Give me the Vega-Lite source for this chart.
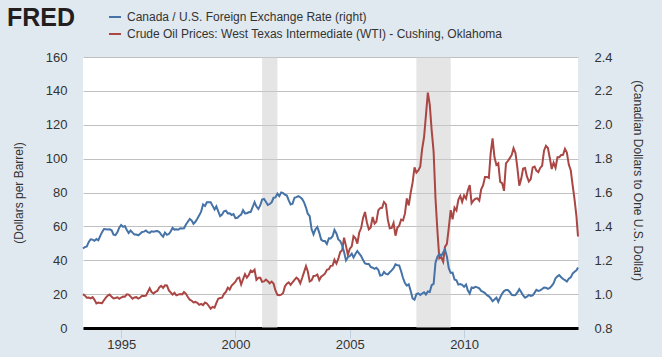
{
  "$schema": "https://vega.github.io/schema/vega-lite/v6.json",
  "width": 495,
  "height": 271,
  "autosize": "none",
  "padding": {"left": 83, "top": 57, "right": 84, "bottom": 29},
  "background": "#e1e9f0",
  "view": {"fill": "#ffffff", "stroke": null},
  "config": {"font": "Liberation Sans"},
  "title": {"text": "FRED", "anchor": "start", "frame": "group", "orient": "top", "dx": -76, "offset": -46, "fontSize": 25, "fontWeight": "bold", "font": "Liberation Sans", "color": "#231f20", "baseline": "bottom"},
  "datasets": {
    "rec": [
      {"start": "2001-03-01", "end": "2001-11-01"},
      {"start": "2007-12-01", "end": "2009-06-01"}
    ],
    "series": [
      {"date":"1993-05-01","oil":20.0,"cad":1.269},{"date":"1993-06-01","oil":19.1,"cad":1.278},{"date":"1993-07-01","oil":17.9,"cad":1.282},{"date":"1993-08-01","oil":18.0,"cad":1.308},{"date":"1993-09-01","oil":17.5,"cad":1.324},{"date":"1993-10-01","oil":18.2,"cad":1.322},{"date":"1993-11-01","oil":16.6,"cad":1.315},{"date":"1993-12-01","oil":14.5,"cad":1.325},
      {"date":"1994-01-01","oil":15.0,"cad":1.318},{"date":"1994-02-01","oil":14.8,"cad":1.344},{"date":"1994-03-01","oil":14.7,"cad":1.366},{"date":"1994-04-01","oil":16.4,"cad":1.384},{"date":"1994-05-01","oil":17.9,"cad":1.383},{"date":"1994-06-01","oil":19.1,"cad":1.382},{"date":"1994-07-01","oil":19.7,"cad":1.383},{"date":"1994-08-01","oil":18.4,"cad":1.377},{"date":"1994-09-01","oil":17.5,"cad":1.351},{"date":"1994-10-01","oil":17.7,"cad":1.348},{"date":"1994-11-01","oil":18.1,"cad":1.365},{"date":"1994-12-01","oil":17.2,"cad":1.392},
      {"date":"1995-01-01","oil":18.0,"cad":1.408},{"date":"1995-02-01","oil":18.6,"cad":1.397},{"date":"1995-03-01","oil":18.5,"cad":1.402},{"date":"1995-04-01","oil":19.9,"cad":1.379},{"date":"1995-05-01","oil":19.7,"cad":1.361},{"date":"1995-06-01","oil":18.5,"cad":1.375},{"date":"1995-07-01","oil":17.3,"cad":1.363},{"date":"1995-08-01","oil":18.0,"cad":1.352},{"date":"1995-09-01","oil":18.2,"cad":1.352},{"date":"1995-10-01","oil":17.4,"cad":1.347},{"date":"1995-11-01","oil":18.0,"cad":1.357},{"date":"1995-12-01","oil":19.0,"cad":1.367},
      {"date":"1996-01-01","oil":18.9,"cad":1.369},{"date":"1996-02-01","oil":19.1,"cad":1.376},{"date":"1996-03-01","oil":21.3,"cad":1.366},{"date":"1996-04-01","oil":23.5,"cad":1.362},{"date":"1996-05-01","oil":21.2,"cad":1.371},{"date":"1996-06-01","oil":20.4,"cad":1.369},{"date":"1996-07-01","oil":21.3,"cad":1.371},{"date":"1996-08-01","oil":21.9,"cad":1.372},{"date":"1996-09-01","oil":24.0,"cad":1.367},{"date":"1996-10-01","oil":24.9,"cad":1.351},{"date":"1996-11-01","oil":23.7,"cad":1.339},{"date":"1996-12-01","oil":25.2,"cad":1.363},
      {"date":"1997-01-01","oil":25.1,"cad":1.350},{"date":"1997-02-01","oil":22.2,"cad":1.355},{"date":"1997-03-01","oil":21.0,"cad":1.370},{"date":"1997-04-01","oil":19.7,"cad":1.391},{"date":"1997-05-01","oil":20.8,"cad":1.381},{"date":"1997-06-01","oil":19.3,"cad":1.383},{"date":"1997-07-01","oil":19.7,"cad":1.380},{"date":"1997-08-01","oil":20.0,"cad":1.389},{"date":"1997-09-01","oil":19.8,"cad":1.387},{"date":"1997-10-01","oil":21.3,"cad":1.389},{"date":"1997-11-01","oil":20.2,"cad":1.411},{"date":"1997-12-01","oil":18.3,"cad":1.427},
      {"date":"1998-01-01","oil":16.7,"cad":1.444},{"date":"1998-02-01","oil":16.1,"cad":1.434},{"date":"1998-03-01","oil":15.1,"cad":1.415},{"date":"1998-04-01","oil":15.4,"cad":1.427},{"date":"1998-05-01","oil":14.9,"cad":1.445},{"date":"1998-06-01","oil":13.7,"cad":1.465},{"date":"1998-07-01","oil":14.2,"cad":1.487},{"date":"1998-08-01","oil":13.5,"cad":1.529},{"date":"1998-09-01","oil":15.0,"cad":1.520},{"date":"1998-10-01","oil":14.5,"cad":1.542},{"date":"1998-11-01","oil":13.0,"cad":1.542},{"date":"1998-12-01","oil":11.4,"cad":1.542},
      {"date":"1999-01-01","oil":12.5,"cad":1.521},{"date":"1999-02-01","oil":12.0,"cad":1.500},{"date":"1999-03-01","oil":14.7,"cad":1.518},{"date":"1999-04-01","oil":17.3,"cad":1.488},{"date":"1999-05-01","oil":17.7,"cad":1.461},{"date":"1999-06-01","oil":17.9,"cad":1.470},{"date":"1999-07-01","oil":20.1,"cad":1.489},{"date":"1999-08-01","oil":21.3,"cad":1.493},{"date":"1999-09-01","oil":23.8,"cad":1.477},{"date":"1999-10-01","oil":22.7,"cad":1.478},{"date":"1999-11-01","oil":25.0,"cad":1.467},{"date":"1999-12-01","oil":26.1,"cad":1.472},
      {"date":"2000-01-01","oil":27.3,"cad":1.449},{"date":"2000-02-01","oil":29.4,"cad":1.451},{"date":"2000-03-01","oil":29.8,"cad":1.461},{"date":"2000-04-01","oil":25.7,"cad":1.469},{"date":"2000-05-01","oil":28.8,"cad":1.496},{"date":"2000-06-01","oil":31.8,"cad":1.477},{"date":"2000-07-01","oil":29.7,"cad":1.478},{"date":"2000-08-01","oil":31.3,"cad":1.483},{"date":"2000-09-01","oil":33.9,"cad":1.486},{"date":"2000-10-01","oil":33.1,"cad":1.513},{"date":"2000-11-01","oil":34.4,"cad":1.543},{"date":"2000-12-01","oil":28.4,"cad":1.517},
      {"date":"2001-01-01","oil":29.6,"cad":1.503},{"date":"2001-02-01","oil":29.6,"cad":1.525},{"date":"2001-03-01","oil":27.3,"cad":1.558},{"date":"2001-04-01","oil":27.5,"cad":1.562},{"date":"2001-05-01","oil":28.6,"cad":1.545},{"date":"2001-06-01","oil":27.6,"cad":1.526},{"date":"2001-07-01","oil":26.4,"cad":1.532},{"date":"2001-08-01","oil":27.4,"cad":1.541},{"date":"2001-09-01","oil":26.2,"cad":1.569},{"date":"2001-10-01","oil":22.2,"cad":1.571},{"date":"2001-11-01","oil":19.6,"cad":1.593},{"date":"2001-12-01","oil":19.4,"cad":1.578},
      {"date":"2002-01-01","oil":19.7,"cad":1.600},{"date":"2002-02-01","oil":20.7,"cad":1.596},{"date":"2002-03-01","oil":24.5,"cad":1.588},{"date":"2002-04-01","oil":26.2,"cad":1.582},{"date":"2002-05-01","oil":27.0,"cad":1.553},{"date":"2002-06-01","oil":25.5,"cad":1.529},{"date":"2002-07-01","oil":27.0,"cad":1.533},{"date":"2002-08-01","oil":28.4,"cad":1.569},{"date":"2002-09-01","oil":29.7,"cad":1.573},{"date":"2002-10-01","oil":28.8,"cad":1.579},{"date":"2002-11-01","oil":26.4,"cad":1.572},{"date":"2002-12-01","oil":29.5,"cad":1.562},
      {"date":"2003-01-01","oil":33.0,"cad":1.542},{"date":"2003-02-01","oil":36.5,"cad":1.511},{"date":"2003-03-01","oil":33.5,"cad":1.475},{"date":"2003-04-01","oil":27.5,"cad":1.461},{"date":"2003-05-01","oil":28.1,"cad":1.384},{"date":"2003-06-01","oil":30.7,"cad":1.353},{"date":"2003-07-01","oil":30.8,"cad":1.382},{"date":"2003-08-01","oil":31.6,"cad":1.396},{"date":"2003-09-01","oil":28.3,"cad":1.363},{"date":"2003-10-01","oil":30.3,"cad":1.322},{"date":"2003-11-01","oil":31.1,"cad":1.313},{"date":"2003-12-01","oil":32.1,"cad":1.313},
      {"date":"2004-01-01","oil":34.3,"cad":1.296},{"date":"2004-02-01","oil":34.7,"cad":1.330},{"date":"2004-03-01","oil":36.7,"cad":1.329},{"date":"2004-04-01","oil":36.8,"cad":1.342},{"date":"2004-05-01","oil":40.3,"cad":1.379},{"date":"2004-06-01","oil":38.0,"cad":1.358},{"date":"2004-07-01","oil":40.8,"cad":1.323},{"date":"2004-08-01","oil":44.9,"cad":1.313},{"date":"2004-09-01","oil":45.9,"cad":1.288},{"date":"2004-10-01","oil":53.3,"cad":1.249},{"date":"2004-11-01","oil":48.5,"cad":1.199},{"date":"2004-12-01","oil":43.2,"cad":1.218},
      {"date":"2005-01-01","oil":46.8,"cad":1.225},{"date":"2005-02-01","oil":48.2,"cad":1.239},{"date":"2005-03-01","oil":54.2,"cad":1.216},{"date":"2005-04-01","oil":53.0,"cad":1.237},{"date":"2005-05-01","oil":49.8,"cad":1.255},{"date":"2005-06-01","oil":56.4,"cad":1.239},{"date":"2005-07-01","oil":59.0,"cad":1.225},{"date":"2005-08-01","oil":65.0,"cad":1.201},{"date":"2005-09-01","oil":68.5,"cad":1.181},{"date":"2005-10-01","oil":62.3,"cad":1.178},{"date":"2005-11-01","oil":58.3,"cad":1.178},{"date":"2005-12-01","oil":59.4,"cad":1.160},
      {"date":"2006-01-01","oil":65.5,"cad":1.156},{"date":"2006-02-01","oil":61.6,"cad":1.149},{"date":"2006-03-01","oil":62.7,"cad":1.156},{"date":"2006-04-01","oil":69.4,"cad":1.144},{"date":"2006-05-01","oil":70.8,"cad":1.109},{"date":"2006-06-01","oil":71.0,"cad":1.112},{"date":"2006-07-01","oil":74.4,"cad":1.131},{"date":"2006-08-01","oil":73.0,"cad":1.119},{"date":"2006-09-01","oil":63.8,"cad":1.116},{"date":"2006-10-01","oil":58.9,"cad":1.129},{"date":"2006-11-01","oil":59.1,"cad":1.140},{"date":"2006-12-01","oil":62.0,"cad":1.153},
      {"date":"2007-01-01","oil":54.5,"cad":1.176},{"date":"2007-02-01","oil":59.3,"cad":1.171},{"date":"2007-03-01","oil":60.4,"cad":1.170},{"date":"2007-04-01","oil":64.0,"cad":1.135},{"date":"2007-05-01","oil":63.5,"cad":1.095},{"date":"2007-06-01","oil":67.5,"cad":1.065},{"date":"2007-07-01","oil":76.5,"cad":1.050},{"date":"2007-08-01","oil":72.4,"cad":1.058},{"date":"2007-09-01","oil":79.9,"cad":1.019},{"date":"2007-10-01","oil":85.8,"cad":0.975},{"date":"2007-11-01","oil":94.8,"cad":0.967},{"date":"2007-12-01","oil":91.7,"cad":1.000},
      {"date":"2008-01-01","oil":93.0,"cad":1.004},{"date":"2008-02-01","oil":95.4,"cad":0.995},{"date":"2008-03-01","oil":105.5,"cad":1.004},{"date":"2008-04-01","oil":112.6,"cad":1.011},{"date":"2008-05-01","oil":125.4,"cad":0.998},{"date":"2008-06-01","oil":139.0,"cad":1.016},{"date":"2008-07-01","oil":132.0,"cad":1.013},{"date":"2008-08-01","oil":116.7,"cad":1.053},{"date":"2008-09-01","oil":104.1,"cad":1.060},{"date":"2008-10-01","oil":76.6,"cad":1.186},{"date":"2008-11-01","oil":57.3,"cad":1.221},{"date":"2008-12-01","oil":41.1,"cad":1.237},
      {"date":"2009-01-01","oil":41.7,"cad":1.226},{"date":"2009-02-01","oil":39.1,"cad":1.246},{"date":"2009-03-01","oil":47.9,"cad":1.264},{"date":"2009-04-01","oil":49.7,"cad":1.222},{"date":"2009-05-01","oil":59.0,"cad":1.153},{"date":"2009-06-01","oil":69.6,"cad":1.125},{"date":"2009-07-01","oil":64.2,"cad":1.127},{"date":"2009-08-01","oil":71.1,"cad":1.086},{"date":"2009-09-01","oil":69.4,"cad":1.082},{"date":"2009-10-01","oil":75.7,"cad":1.056},{"date":"2009-11-01","oil":78.0,"cad":1.059},{"date":"2009-12-01","oil":74.5,"cad":1.055},
      {"date":"2010-01-01","oil":78.3,"cad":1.043},{"date":"2010-02-01","oil":76.4,"cad":1.057},{"date":"2010-03-01","oil":81.2,"cad":1.023},{"date":"2010-04-01","oil":84.3,"cad":1.004},{"date":"2010-05-01","oil":73.7,"cad":1.040},{"date":"2010-06-01","oil":75.3,"cad":1.037},{"date":"2010-07-01","oil":76.3,"cad":1.043},{"date":"2010-08-01","oil":76.6,"cad":1.040},{"date":"2010-09-01","oil":75.2,"cad":1.034},{"date":"2010-10-01","oil":81.9,"cad":1.019},{"date":"2010-11-01","oil":84.3,"cad":1.013},{"date":"2010-12-01","oil":89.2,"cad":1.006},
      {"date":"2011-01-01","oil":89.2,"cad":0.994},{"date":"2011-02-01","oil":88.6,"cad":0.987},{"date":"2011-03-01","oil":102.9,"cad":0.976},{"date":"2011-04-01","oil":112.0,"cad":0.958},{"date":"2011-05-01","oil":100.9,"cad":0.968},{"date":"2011-06-01","oil":96.3,"cad":0.979},{"date":"2011-07-01","oil":97.3,"cad":0.955},{"date":"2011-08-01","oil":86.3,"cad":0.981},{"date":"2011-09-01","oil":85.5,"cad":1.003},{"date":"2011-10-01","oil":81.0,"cad":1.018},{"date":"2011-11-01","oil":97.2,"cad":1.024},{"date":"2011-12-01","oil":98.6,"cad":1.024},
      {"date":"2012-01-01","oil":100.3,"cad":1.013},{"date":"2012-02-01","oil":102.2,"cad":0.996},{"date":"2012-03-01","oil":106.2,"cad":0.993},{"date":"2012-04-01","oil":103.3,"cad":0.994},{"date":"2012-05-01","oil":94.7,"cad":1.010},{"date":"2012-06-01","oil":84.0,"cad":1.029},{"date":"2012-07-01","oil":87.9,"cad":1.012},{"date":"2012-08-01","oil":94.1,"cad":0.992},{"date":"2012-09-01","oil":94.5,"cad":0.979},{"date":"2012-10-01","oil":89.5,"cad":0.985},{"date":"2012-11-01","oil":86.5,"cad":0.995},{"date":"2012-12-01","oil":87.9,"cad":0.989},
      {"date":"2013-01-01","oil":94.8,"cad":0.993},{"date":"2013-02-01","oil":95.3,"cad":1.009},{"date":"2013-03-01","oil":92.9,"cad":1.025},{"date":"2013-04-01","oil":92.0,"cad":1.019},{"date":"2013-05-01","oil":94.5,"cad":1.022},{"date":"2013-06-01","oil":95.8,"cad":1.030},{"date":"2013-07-01","oil":104.7,"cad":1.039},{"date":"2013-08-01","oil":107.5,"cad":1.038},{"date":"2013-09-01","oil":106.3,"cad":1.031},{"date":"2013-10-01","oil":100.5,"cad":1.036},{"date":"2013-11-01","oil":93.9,"cad":1.049},{"date":"2013-12-01","oil":97.6,"cad":1.064},
      {"date":"2014-01-01","oil":94.6,"cad":1.094},{"date":"2014-02-01","oil":100.8,"cad":1.105},{"date":"2014-03-01","oil":100.8,"cad":1.112},{"date":"2014-04-01","oil":102.1,"cad":1.100},{"date":"2014-05-01","oil":102.2,"cad":1.089},{"date":"2014-06-01","oil":105.8,"cad":1.083},{"date":"2014-07-01","oil":103.6,"cad":1.074},{"date":"2014-08-01","oil":96.5,"cad":1.091},{"date":"2014-09-01","oil":93.2,"cad":1.099},{"date":"2014-10-01","oil":84.4,"cad":1.121},{"date":"2014-11-01","oil":75.8,"cad":1.132},{"date":"2014-12-01","oil":66.0,"cad":1.140},
      {"date":"2014-12-26","oil":54.0,"cad":1.157}
    ]
  },
  "layer": [
    {
      "data": {"name": "rec"},
      "mark": {"type": "rect", "color": "#cccccc", "opacity": 0.5},
      "encoding": {
        "x": {
          "field": "start", "type": "temporal",
          "scale": {"type": "utc", "domain": [{"year": 1993, "month": 5, "date": 1, "utc": true}, {"year": 2014, "month": 12, "date": 26, "utc": true}]},
          "axis": {"orient": "bottom", "format": "%Y", "tickCount": {"interval": "year", "step": 5}, "grid": false, "domainColor": "#000000", "domainWidth": 3, "tickColor": "#c0d0e0", "tickSize": 10, "tickWidth": 1, "labelPadding": 0, "labelFontSize": 13, "labelColor": "#333333", "labelFont": "Liberation Sans", "title": null}
        },
        "x2": {"field": "end"}
      }
    },
    {
      "data": {"name": "series"},
      "mark": {"type": "line", "strokeWidth": 2},
      "encoding": {
        "x": {"field": "date", "type": "temporal"},
        "y": {
          "field": "oil", "type": "quantitative",
          "scale": {"domain": [0, 160], "nice": false, "zero": false},
          "axis": {"values": [0, 20, 40, 60, 80, 100, 120, 140, 160], "grid": true, "gridColor": "#c0c0c0", "gridWidth": 1, "ticks": false, "domain": false, "labelPadding": 16, "labelFontSize": 13, "labelColor": "#333333", "labelFont": "Liberation Sans", "title": "(Dollars per Barrel)", "titleFont": "Liberation Sans", "titleFontSize": 12, "titleFontWeight": "normal", "titleColor": "#333333", "titleX": -65, "titleY": 135.5, "titleAngle": -90, "titleAlign": "center", "titleBaseline": "middle"}
        },
        "color": {
          "datum": "Crude Oil Prices: West Texas Intermediate (WTI) - Cushing, Oklahoma",
          "scale": {"domain": ["Canada / U.S. Foreign Exchange Rate (right)", "Crude Oil Prices: West Texas Intermediate (WTI) - Cushing, Oklahoma"], "range": ["#4572a7", "#aa4643"]},
          "legend": {"orient": "none", "legendX": 25, "legendY": -47, "title": null, "symbolType": "stroke", "symbolStrokeWidth": 2, "symbolSize": 144, "labelFontSize": 12, "labelFont": "Liberation Sans", "labelColor": "#333333", "labelLimit": 1000, "rowPadding": 4, "labelOffset": 5, "direction": "vertical"}
        }
      }
    },
    {
      "data": {"name": "series"},
      "mark": {"type": "line", "strokeWidth": 2},
      "encoding": {
        "x": {"field": "date", "type": "temporal"},
        "y": {
          "field": "cad", "type": "quantitative",
          "scale": {"domain": [0.8, 2.4], "nice": false, "zero": false},
          "axis": {"orient": "right", "values": [0.8, 1.0, 1.2, 1.4, 1.6, 1.8, 2.0, 2.2, 2.4], "format": ".1f", "grid": false, "ticks": false, "domain": false, "labelPadding": 16, "labelFontSize": 13, "labelColor": "#333333", "labelFont": "Liberation Sans", "title": "(Canadian Dollars to One U.S. Dollar)", "titleFont": "Liberation Sans", "titleFontSize": 12, "titleFontWeight": "normal", "titleColor": "#333333", "titleX": 59.5, "titleY": 123, "titleAngle": 90, "titleAlign": "center", "titleBaseline": "middle"}
        },
        "color": {"datum": "Canada / U.S. Foreign Exchange Rate (right)"}
      }
    }
  ],
  "resolve": {"scale": {"y": "independent"}}
}
